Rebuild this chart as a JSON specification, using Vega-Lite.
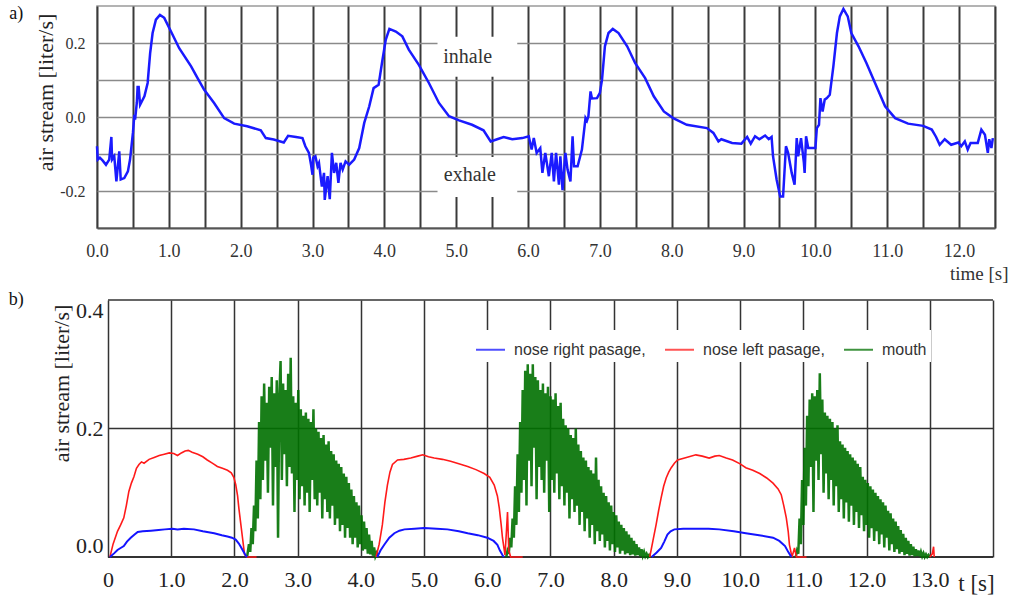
{
 "$schema": "https://vega.github.io/schema/vega-lite/v6.json",
 "background": "white",
 "padding": {"left": 8, "top": 3, "right": 0, "bottom": 0},
 "config": {"view": {"stroke": null}, "font": "Liberation Serif"},
 "columns": 1,
 "align": "none",
 "spacing": 6,
 "resolve": {"legend": {"color": "independent"}, "scale": {"color": "independent"}},
 "datasets": {
  "boxes": [{"t": 4.74, "t2": 5.85, "v": 0.217, "v2": 0.109}, {"t": 4.74, "t2": 5.85, "v": -0.108, "v2": -0.216}],
  "notes": [{"t": 5.16, "v": 0.163, "label": "inhale"}, {"t": 5.19, "v": -0.156, "label": "exhale"}],
  "tagA": [{"t": -1.22, "v": 0.265, "label": "a)"}],
  "tagB": [{"t": -1.572, "v": 0.3927, "label": "b)"}],
  "hlines": [{"v": 0, "t": 0, "t2": 14, "w": 2}, {"v": 0.2, "t": 0, "t2": 14, "w": 1.5}, {"v": 0.4, "t": 0, "t2": 14, "w": 1.5}],
  "a": [
{"t":0,"v":-0.079},{"t":0.01,"v":-0.115},{"t":0.04,"v":-0.11},{"t":0.08,"v":-0.118},{"t":0.125,"v":-0.129},{"t":0.17,"v":-0.115},{"t":0.2,"v":-0.054},{"t":0.21,"v":-0.115},{"t":0.24,"v":-0.106},{"t":0.27,"v":-0.174},{"t":0.31,"v":-0.093},{"t":0.33,"v":-0.169},{"t":0.38,"v":-0.165},{"t":0.43,"v":-0.147},{"t":0.46,"v":-0.115},{"t":0.5,"v":-0.043},{"t":0.52,"v":0.006},{"t":0.53,"v":-0.007},{"t":0.555,"v":0.04},{"t":0.565,"v":0.081},{"t":0.58,"v":0.081},{"t":0.6,"v":0.033},{"t":0.66,"v":0.056},{"t":0.705,"v":0.092},{"t":0.74,"v":0.173},{"t":0.774,"v":0.227},{"t":0.82,"v":0.263},{"t":0.876,"v":0.276},{"t":0.936,"v":0.268},{"t":1.03,"v":0.231},{"t":1.144,"v":0.186},{"t":1.31,"v":0.137},{"t":1.4,"v":0.105},{"t":1.49,"v":0.074},{"t":1.63,"v":0.038},{"t":1.77,"v":-0.003},{"t":1.91,"v":-0.018},{"t":2.09,"v":-0.025},{"t":2.28,"v":-0.036},{"t":2.35,"v":-0.057},{"t":2.46,"v":-0.061},{"t":2.6,"v":-0.069},{"t":2.66,"v":-0.051},{"t":2.77,"v":-0.054},{"t":2.86,"v":-0.057},{"t":2.9,"v":-0.079},{"t":2.95,"v":-0.097},{"t":2.98,"v":-0.13},{"t":3.0,"v":-0.156},{"t":3.01,"v":-0.11},{"t":3.04,"v":-0.106},{"t":3.07,"v":-0.133},{"t":3.09,"v":-0.124},{"t":3.13,"v":-0.188},{"t":3.16,"v":-0.151},{"t":3.17,"v":-0.224},{"t":3.21,"v":-0.16},{"t":3.24,"v":-0.222},{"t":3.27,"v":-0.097},{"t":3.3,"v":-0.151},{"t":3.33,"v":-0.124},{"t":3.36,"v":-0.178},{"t":3.39,"v":-0.124},{"t":3.42,"v":-0.142},{"t":3.46,"v":-0.12},{"t":3.51,"v":-0.129},{"t":3.58,"v":-0.115},{"t":3.65,"v":-0.084},{"t":3.72,"v":-0.016},{"t":3.79,"v":0.029},{"t":3.85,"v":0.078},{"t":3.92,"v":0.087},{"t":3.97,"v":0.15},{"t":4.02,"v":0.209},{"t":4.07,"v":0.238},{"t":4.16,"v":0.231},{"t":4.25,"v":0.218},{"t":4.34,"v":0.182},{"t":4.48,"v":0.141},{"t":4.62,"v":0.092},{"t":4.76,"v":0.038},{"t":4.9,"v":0.002},{"t":5.04,"v":-0.009},{"t":5.22,"v":-0.021},{"t":5.38,"v":-0.036},{"t":5.48,"v":-0.066},{"t":5.57,"v":-0.06},{"t":5.66,"v":-0.054},{"t":5.78,"v":-0.06},{"t":5.92,"v":-0.057},{"t":6.01,"v":-0.052},{"t":6.05,"v":-0.088},{"t":6.08,"v":-0.057},{"t":6.12,"v":-0.097},{"t":6.17,"v":-0.084},{"t":6.2,"v":-0.151},{"t":6.24,"v":-0.097},{"t":6.29,"v":-0.16},{"t":6.33,"v":-0.097},{"t":6.36,"v":-0.174},{"t":6.39,"v":-0.097},{"t":6.43,"v":-0.183},{"t":6.45,"v":-0.106},{"t":6.48,"v":-0.198},{"t":6.52,"v":-0.097},{"t":6.55,"v":-0.142},{"t":6.59,"v":-0.174},{"t":6.62,"v":-0.052},{"t":6.64,"v":-0.133},{"t":6.69,"v":-0.133},{"t":6.75,"v":-0.088},{"t":6.8,"v":-0.003},{"t":6.82,"v":-0.01},{"t":6.84,"v":0.002},{"t":6.87,"v":0.069},{"t":6.89,"v":0.05},{"t":6.96,"v":0.051},{"t":7.0,"v":0.065},{"t":7.03,"v":0.101},{"t":7.07,"v":0.191},{"t":7.12,"v":0.227},{"t":7.18,"v":0.238},{"t":7.26,"v":0.227},{"t":7.38,"v":0.191},{"t":7.49,"v":0.146},{"t":7.63,"v":0.105},{"t":7.75,"v":0.056},{"t":7.89,"v":0.015},{"t":8.02,"v":-0.003},{"t":8.21,"v":-0.021},{"t":8.49,"v":-0.03},{"t":8.58,"v":-0.043},{"t":8.65,"v":-0.066},{"t":8.69,"v":-0.06},{"t":8.84,"v":-0.07},{"t":8.97,"v":-0.072},{"t":9.05,"v":-0.054},{"t":9.1,"v":-0.072},{"t":9.16,"v":-0.052},{"t":9.22,"v":-0.06},{"t":9.3,"v":-0.05},{"t":9.35,"v":-0.06},{"t":9.39,"v":-0.054},{"t":9.41,"v":-0.106},{"t":9.46,"v":-0.169},{"t":9.51,"v":-0.215},{"t":9.55,"v":-0.215},{"t":9.59,"v":-0.079},{"t":9.62,"v":-0.097},{"t":9.67,"v":-0.151},{"t":9.71,"v":-0.183},{"t":9.74,"v":-0.057},{"t":9.76,"v":-0.106},{"t":9.8,"v":-0.057},{"t":9.84,"v":-0.124},{"t":9.85,"v":-0.151},{"t":9.87,"v":-0.052},{"t":9.9,"v":-0.084},{"t":10.0,"v":-0.084},{"t":10.02,"v":-0.03},{"t":10.05,"v":-0.021},{"t":10.07,"v":0.051},{"t":10.1,"v":0.015},{"t":10.13,"v":0.047},{"t":10.16,"v":0.051},{"t":10.2,"v":0.06},{"t":10.25,"v":0.137},{"t":10.3,"v":0.227},{"t":10.34,"v":0.272},{"t":10.39,"v":0.292},{"t":10.45,"v":0.272},{"t":10.5,"v":0.227},{"t":10.6,"v":0.191},{"t":10.71,"v":0.146},{"t":10.83,"v":0.092},{"t":10.97,"v":0.029},{"t":11.11,"v":-0.003},{"t":11.29,"v":-0.018},{"t":11.5,"v":-0.024},{"t":11.62,"v":-0.034},{"t":11.68,"v":-0.054},{"t":11.73,"v":-0.075},{"t":11.8,"v":-0.06},{"t":11.89,"v":-0.075},{"t":11.99,"v":-0.069},{"t":12.03,"v":-0.079},{"t":12.08,"v":-0.066},{"t":12.12,"v":-0.088},{"t":12.16,"v":-0.07},{"t":12.26,"v":-0.07},{"t":12.31,"v":-0.034},{"t":12.36,"v":-0.048},{"t":12.4,"v":-0.097},{"t":12.42,"v":-0.06},{"t":12.45,"v":-0.084},{"t":12.47,"v":-0.057}
  ],
  "b": [
{"s":"M","c":1,"t":2.20,"v":0},{"s":"M","c":1,"t":2.23,"v":0.02},{"s":"M","c":1,"t":2.25,"v":0.008},{"s":"M","c":1,"t":2.27,"v":0.045},{"s":"M","c":1,"t":2.29,"v":0.02},{"s":"M","c":1,"t":2.31,"v":0.08},{"s":"M","c":1,"t":2.33,"v":0.04},{"s":"M","c":1,"t":2.35,"v":0.15},{"s":"M","c":1,"t":2.37,"v":0.06},{"s":"M","c":1,"t":2.39,"v":0.21},{"s":"M","c":1,"t":2.41,"v":0.09},{"s":"M","c":1,"t":2.43,"v":0.25},{"s":"M","c":1,"t":2.45,"v":0.12},{"s":"M","c":1,"t":2.47,"v":0.27},{"s":"M","c":1,"t":2.49,"v":0.15},{"s":"M","c":1,"t":2.51,"v":0.24},{"s":"M","c":1,"t":2.53,"v":0.1},{"s":"M","c":1,"t":2.55,"v":0.265},{"s":"M","c":1,"t":2.57,"v":0.17},{"s":"M","c":1,"t":2.59,"v":0.28},{"s":"M","c":1,"t":2.61,"v":0.08},{"s":"M","c":1,"t":2.63,"v":0.255},{"s":"M","c":1,"t":2.65,"v":0.14},{"s":"M","c":1,"t":2.67,"v":0.275},{"s":"M","c":1,"t":2.69,"v":0.03},{"s":"M","c":1,"t":2.71,"v":0.25},{"s":"M","c":1,"t":2.73,"v":0.305},{"s":"M","c":1,"t":2.75,"v":0.12},{"s":"M","c":1,"t":2.77,"v":0.27},{"s":"M","c":1,"t":2.79,"v":0.16},{"s":"M","c":1,"t":2.81,"v":0.26},{"s":"M","c":1,"t":2.83,"v":0.11},{"s":"M","c":1,"t":2.85,"v":0.285},{"s":"M","c":1,"t":2.87,"v":0.14},{"s":"M","c":1,"t":2.89,"v":0.31},{"s":"M","c":1,"t":2.91,"v":0.13},{"s":"M","c":1,"t":2.93,"v":0.25},{"s":"M","c":1,"t":2.95,"v":0.07},{"s":"M","c":1,"t":2.97,"v":0.24},{"s":"M","c":1,"t":2.99,"v":0.12},{"s":"M","c":1,"t":3.01,"v":0.26},{"s":"M","c":1,"t":3.03,"v":0.09},{"s":"M","c":1,"t":3.05,"v":0.23},{"s":"M","c":1,"t":3.07,"v":0.11},{"s":"M","c":1,"t":3.09,"v":0.22},{"s":"M","c":1,"t":3.11,"v":0.08},{"s":"M","c":1,"t":3.13,"v":0.225},{"s":"M","c":1,"t":3.15,"v":0.1},{"s":"M","c":1,"t":3.17,"v":0.215},{"s":"M","c":1,"t":3.19,"v":0.07},{"s":"M","c":1,"t":3.21,"v":0.21},{"s":"M","c":1,"t":3.23,"v":0.12},{"s":"M","c":1,"t":3.25,"v":0.23},{"s":"M","c":1,"t":3.27,"v":0.09},{"s":"M","c":1,"t":3.29,"v":0.2},{"s":"M","c":1,"t":3.31,"v":0.08},{"s":"M","c":1,"t":3.33,"v":0.195},{"s":"M","c":1,"t":3.35,"v":0.1},{"s":"M","c":1,"t":3.37,"v":0.185},{"s":"M","c":1,"t":3.39,"v":0.06},{"s":"M","c":1,"t":3.41,"v":0.19},{"s":"M","c":1,"t":3.43,"v":0.09},{"s":"M","c":1,"t":3.45,"v":0.175},{"s":"M","c":1,"t":3.47,"v":0.07},{"s":"M","c":1,"t":3.49,"v":0.18},{"s":"M","c":1,"t":3.51,"v":0.06},{"s":"M","c":1,"t":3.53,"v":0.165},{"s":"M","c":1,"t":3.55,"v":0.08},{"s":"M","c":1,"t":3.57,"v":0.16},{"s":"M","c":1,"t":3.59,"v":0.05},{"s":"M","c":1,"t":3.61,"v":0.15},{"s":"M","c":1,"t":3.63,"v":0.06},{"s":"M","c":1,"t":3.65,"v":0.145},{"s":"M","c":1,"t":3.67,"v":0.04},{"s":"M","c":1,"t":3.69,"v":0.14},{"s":"M","c":1,"t":3.71,"v":0.05},{"s":"M","c":1,"t":3.73,"v":0.13},{"s":"M","c":1,"t":3.75,"v":0.03},{"s":"M","c":1,"t":3.77,"v":0.125},{"s":"M","c":1,"t":3.79,"v":0.045},{"s":"M","c":1,"t":3.81,"v":0.115},{"s":"M","c":1,"t":3.83,"v":0.03},{"s":"M","c":1,"t":3.85,"v":0.105},{"s":"M","c":1,"t":3.87,"v":0.02},{"s":"M","c":1,"t":3.89,"v":0.095},{"s":"M","c":1,"t":3.91,"v":0.03},{"s":"M","c":1,"t":3.93,"v":0.085},{"s":"M","c":1,"t":3.95,"v":0.015},{"s":"M","c":1,"t":3.97,"v":0.08},{"s":"M","c":1,"t":3.99,"v":0.02},{"s":"M","c":1,"t":4.01,"v":0.065},{"s":"M","c":1,"t":4.03,"v":0.01},{"s":"M","c":1,"t":4.05,"v":0.055},{"s":"M","c":1,"t":4.07,"v":0.012},{"s":"M","c":1,"t":4.09,"v":0.045},{"s":"M","c":1,"t":4.11,"v":0.005},{"s":"M","c":1,"t":4.13,"v":0.035},{"s":"M","c":1,"t":4.15,"v":0.004},{"s":"M","c":1,"t":4.17,"v":0.025},{"s":"M","c":1,"t":4.19,"v":0.002},{"s":"M","c":1,"t":4.21,"v":0.015},{"s":"M","c":1,"t":4.23,"v":0.001},{"s":"M","c":1,"t":4.25,"v":0.006},{"s":"M","c":1,"t":4.27,"v":0},
{"s":"M","c":2,"t":6.30,"v":0},{"s":"M","c":2,"t":6.32,"v":0.01},{"s":"M","c":2,"t":6.34,"v":0.005},{"s":"M","c":2,"t":6.36,"v":0.03},{"s":"M","c":2,"t":6.38,"v":0.015},{"s":"M","c":2,"t":6.40,"v":0.06},{"s":"M","c":2,"t":6.42,"v":0.03},{"s":"M","c":2,"t":6.44,"v":0.11},{"s":"M","c":2,"t":6.46,"v":0.05},{"s":"M","c":2,"t":6.48,"v":0.16},{"s":"M","c":2,"t":6.50,"v":0.07},{"s":"M","c":2,"t":6.52,"v":0.21},{"s":"M","c":2,"t":6.54,"v":0.1},{"s":"M","c":2,"t":6.56,"v":0.26},{"s":"M","c":2,"t":6.58,"v":0.12},{"s":"M","c":2,"t":6.60,"v":0.29},{"s":"M","c":2,"t":6.62,"v":0.08},{"s":"M","c":2,"t":6.64,"v":0.3},{"s":"M","c":2,"t":6.66,"v":0.15},{"s":"M","c":2,"t":6.68,"v":0.285},{"s":"M","c":2,"t":6.70,"v":0.11},{"s":"M","c":2,"t":6.72,"v":0.3},{"s":"M","c":2,"t":6.74,"v":0.17},{"s":"M","c":2,"t":6.76,"v":0.28},{"s":"M","c":2,"t":6.78,"v":0.09},{"s":"M","c":2,"t":6.80,"v":0.275},{"s":"M","c":2,"t":6.82,"v":0.14},{"s":"M","c":2,"t":6.84,"v":0.26},{"s":"M","c":2,"t":6.86,"v":0.12},{"s":"M","c":2,"t":6.88,"v":0.27},{"s":"M","c":2,"t":6.90,"v":0.1},{"s":"M","c":2,"t":6.92,"v":0.255},{"s":"M","c":2,"t":6.94,"v":0.15},{"s":"M","c":2,"t":6.96,"v":0.265},{"s":"M","c":2,"t":6.98,"v":0.07},{"s":"M","c":2,"t":7.00,"v":0.25},{"s":"M","c":2,"t":7.02,"v":0.12},{"s":"M","c":2,"t":7.04,"v":0.245},{"s":"M","c":2,"t":7.06,"v":0.1},{"s":"M","c":2,"t":7.08,"v":0.255},{"s":"M","c":2,"t":7.10,"v":0.13},{"s":"M","c":2,"t":7.12,"v":0.235},{"s":"M","c":2,"t":7.14,"v":0.09},{"s":"M","c":2,"t":7.16,"v":0.24},{"s":"M","c":2,"t":7.18,"v":0.11},{"s":"M","c":2,"t":7.20,"v":0.215},{"s":"M","c":2,"t":7.22,"v":0.08},{"s":"M","c":2,"t":7.24,"v":0.205},{"s":"M","c":2,"t":7.26,"v":0.1},{"s":"M","c":2,"t":7.28,"v":0.2},{"s":"M","c":2,"t":7.30,"v":0.06},{"s":"M","c":2,"t":7.32,"v":0.19},{"s":"M","c":2,"t":7.34,"v":0.09},{"s":"M","c":2,"t":7.36,"v":0.185},{"s":"M","c":2,"t":7.38,"v":0.07},{"s":"M","c":2,"t":7.40,"v":0.2},{"s":"M","c":2,"t":7.42,"v":0.08},{"s":"M","c":2,"t":7.44,"v":0.175},{"s":"M","c":2,"t":7.46,"v":0.05},{"s":"M","c":2,"t":7.48,"v":0.165},{"s":"M","c":2,"t":7.50,"v":0.07},{"s":"M","c":2,"t":7.52,"v":0.155},{"s":"M","c":2,"t":7.54,"v":0.04},{"s":"M","c":2,"t":7.56,"v":0.15},{"s":"M","c":2,"t":7.58,"v":0.06},{"s":"M","c":2,"t":7.60,"v":0.14},{"s":"M","c":2,"t":7.62,"v":0.03},{"s":"M","c":2,"t":7.64,"v":0.135},{"s":"M","c":2,"t":7.66,"v":0.05},{"s":"M","c":2,"t":7.68,"v":0.13},{"s":"M","c":2,"t":7.70,"v":0.02},{"s":"M","c":2,"t":7.72,"v":0.155},{"s":"M","c":2,"t":7.74,"v":0.04},{"s":"M","c":2,"t":7.76,"v":0.12},{"s":"M","c":2,"t":7.78,"v":0.025},{"s":"M","c":2,"t":7.80,"v":0.11},{"s":"M","c":2,"t":7.82,"v":0.035},{"s":"M","c":2,"t":7.84,"v":0.1},{"s":"M","c":2,"t":7.86,"v":0.015},{"s":"M","c":2,"t":7.88,"v":0.095},{"s":"M","c":2,"t":7.90,"v":0.025},{"s":"M","c":2,"t":7.92,"v":0.085},{"s":"M","c":2,"t":7.94,"v":0.01},{"s":"M","c":2,"t":7.96,"v":0.08},{"s":"M","c":2,"t":7.98,"v":0.02},{"s":"M","c":2,"t":8.00,"v":0.07},{"s":"M","c":2,"t":8.02,"v":0.008},{"s":"M","c":2,"t":8.04,"v":0.065},{"s":"M","c":2,"t":8.06,"v":0.015},{"s":"M","c":2,"t":8.08,"v":0.055},{"s":"M","c":2,"t":8.10,"v":0.005},{"s":"M","c":2,"t":8.12,"v":0.05},{"s":"M","c":2,"t":8.14,"v":0.01},{"s":"M","c":2,"t":8.16,"v":0.045},{"s":"M","c":2,"t":8.18,"v":0.004},{"s":"M","c":2,"t":8.20,"v":0.04},{"s":"M","c":2,"t":8.22,"v":0.006},{"s":"M","c":2,"t":8.24,"v":0.035},{"s":"M","c":2,"t":8.26,"v":0.003},{"s":"M","c":2,"t":8.28,"v":0.03},{"s":"M","c":2,"t":8.30,"v":0.004},{"s":"M","c":2,"t":8.32,"v":0.025},{"s":"M","c":2,"t":8.34,"v":0.002},{"s":"M","c":2,"t":8.36,"v":0.02},{"s":"M","c":2,"t":8.38,"v":0.003},{"s":"M","c":2,"t":8.40,"v":0.015},{"s":"M","c":2,"t":8.42,"v":0.001},{"s":"M","c":2,"t":8.44,"v":0.012},{"s":"M","c":2,"t":8.46,"v":0.002},{"s":"M","c":2,"t":8.48,"v":0.008},{"s":"M","c":2,"t":8.50,"v":0.001},{"s":"M","c":2,"t":8.52,"v":0.005},{"s":"M","c":2,"t":8.54,"v":0},{"s":"M","c":2,"t":8.56,"v":0.003},{"s":"M","c":2,"t":8.58,"v":0},
{"s":"M","c":3,"t":10.88,"v":0},{"s":"M","c":3,"t":10.90,"v":0.01},{"s":"M","c":3,"t":10.92,"v":0.005},{"s":"M","c":3,"t":10.94,"v":0.06},{"s":"M","c":3,"t":10.96,"v":0.02},{"s":"M","c":3,"t":10.98,"v":0.12},{"s":"M","c":3,"t":11.00,"v":0.05},{"s":"M","c":3,"t":11.02,"v":0.17},{"s":"M","c":3,"t":11.04,"v":0.08},{"s":"M","c":3,"t":11.06,"v":0.22},{"s":"M","c":3,"t":11.08,"v":0.11},{"s":"M","c":3,"t":11.10,"v":0.245},{"s":"M","c":3,"t":11.12,"v":0.14},{"s":"M","c":3,"t":11.14,"v":0.255},{"s":"M","c":3,"t":11.16,"v":0.07},{"s":"M","c":3,"t":11.18,"v":0.25},{"s":"M","c":3,"t":11.20,"v":0.15},{"s":"M","c":3,"t":11.22,"v":0.26},{"s":"M","c":3,"t":11.24,"v":0.12},{"s":"M","c":3,"t":11.26,"v":0.286},{"s":"M","c":3,"t":11.28,"v":0.16},{"s":"M","c":3,"t":11.30,"v":0.245},{"s":"M","c":3,"t":11.32,"v":0.1},{"s":"M","c":3,"t":11.34,"v":0.225},{"s":"M","c":3,"t":11.36,"v":0.13},{"s":"M","c":3,"t":11.38,"v":0.22},{"s":"M","c":3,"t":11.40,"v":0.09},{"s":"M","c":3,"t":11.42,"v":0.215},{"s":"M","c":3,"t":11.44,"v":0.12},{"s":"M","c":3,"t":11.46,"v":0.21},{"s":"M","c":3,"t":11.48,"v":0.08},{"s":"M","c":3,"t":11.50,"v":0.2},{"s":"M","c":3,"t":11.52,"v":0.11},{"s":"M","c":3,"t":11.54,"v":0.205},{"s":"M","c":3,"t":11.56,"v":0.07},{"s":"M","c":3,"t":11.58,"v":0.18},{"s":"M","c":3,"t":11.60,"v":0.09},{"s":"M","c":3,"t":11.62,"v":0.175},{"s":"M","c":3,"t":11.64,"v":0.06},{"s":"M","c":3,"t":11.66,"v":0.17},{"s":"M","c":3,"t":11.68,"v":0.085},{"s":"M","c":3,"t":11.70,"v":0.165},{"s":"M","c":3,"t":11.72,"v":0.055},{"s":"M","c":3,"t":11.74,"v":0.16},{"s":"M","c":3,"t":11.76,"v":0.08},{"s":"M","c":3,"t":11.78,"v":0.155},{"s":"M","c":3,"t":11.80,"v":0.05},{"s":"M","c":3,"t":11.82,"v":0.15},{"s":"M","c":3,"t":11.84,"v":0.07},{"s":"M","c":3,"t":11.86,"v":0.145},{"s":"M","c":3,"t":11.88,"v":0.045},{"s":"M","c":3,"t":11.90,"v":0.14},{"s":"M","c":3,"t":11.92,"v":0.065},{"s":"M","c":3,"t":11.94,"v":0.125},{"s":"M","c":3,"t":11.96,"v":0.04},{"s":"M","c":3,"t":11.98,"v":0.12},{"s":"M","c":3,"t":12.00,"v":0.05},{"s":"M","c":3,"t":12.02,"v":0.115},{"s":"M","c":3,"t":12.04,"v":0.03},{"s":"M","c":3,"t":12.06,"v":0.11},{"s":"M","c":3,"t":12.08,"v":0.045},{"s":"M","c":3,"t":12.10,"v":0.105},{"s":"M","c":3,"t":12.12,"v":0.025},{"s":"M","c":3,"t":12.14,"v":0.1},{"s":"M","c":3,"t":12.16,"v":0.04},{"s":"M","c":3,"t":12.18,"v":0.095},{"s":"M","c":3,"t":12.20,"v":0.02},{"s":"M","c":3,"t":12.22,"v":0.09},{"s":"M","c":3,"t":12.24,"v":0.035},{"s":"M","c":3,"t":12.26,"v":0.085},{"s":"M","c":3,"t":12.28,"v":0.015},{"s":"M","c":3,"t":12.30,"v":0.08},{"s":"M","c":3,"t":12.32,"v":0.03},{"s":"M","c":3,"t":12.34,"v":0.072},{"s":"M","c":3,"t":12.36,"v":0.01},{"s":"M","c":3,"t":12.38,"v":0.068},{"s":"M","c":3,"t":12.40,"v":0.02},{"s":"M","c":3,"t":12.42,"v":0.06},{"s":"M","c":3,"t":12.44,"v":0.008},{"s":"M","c":3,"t":12.46,"v":0.055},{"s":"M","c":3,"t":12.48,"v":0.012},{"s":"M","c":3,"t":12.50,"v":0.048},{"s":"M","c":3,"t":12.52,"v":0.005},{"s":"M","c":3,"t":12.54,"v":0.042},{"s":"M","c":3,"t":12.56,"v":0.008},{"s":"M","c":3,"t":12.58,"v":0.036},{"s":"M","c":3,"t":12.60,"v":0.003},{"s":"M","c":3,"t":12.62,"v":0.03},{"s":"M","c":3,"t":12.64,"v":0.005},{"s":"M","c":3,"t":12.66,"v":0.025},{"s":"M","c":3,"t":12.68,"v":0.002},{"s":"M","c":3,"t":12.70,"v":0.02},{"s":"M","c":3,"t":12.72,"v":0.003},{"s":"M","c":3,"t":12.74,"v":0.016},{"s":"M","c":3,"t":12.76,"v":0.001},{"s":"M","c":3,"t":12.78,"v":0.012},{"s":"M","c":3,"t":12.80,"v":0.002},{"s":"M","c":3,"t":12.82,"v":0.01},{"s":"M","c":3,"t":12.84,"v":0.001},{"s":"M","c":3,"t":12.86,"v":0.008},{"s":"M","c":3,"t":12.88,"v":0.001},{"s":"M","c":3,"t":12.90,"v":0.006},{"s":"M","c":3,"t":12.92,"v":0},{"s":"M","c":3,"t":12.94,"v":0.004},{"s":"M","c":3,"t":12.96,"v":0},{"s":"M","c":3,"t":12.98,"v":0.003},{"s":"M","c":3,"t":13.00,"v":0},
{"s":"L","c":1,"t":0.03,"v":0},{"s":"L","c":1,"t":0.08,"v":0.02},{"s":"L","c":1,"t":0.15,"v":0.04},{"s":"L","c":1,"t":0.2,"v":0.05},{"s":"L","c":1,"t":0.25,"v":0.061},{"s":"L","c":1,"t":0.29,"v":0.08},{"s":"L","c":1,"t":0.33,"v":0.102},{"s":"L","c":1,"t":0.37,"v":0.115},{"s":"L","c":1,"t":0.41,"v":0.125},{"s":"L","c":1,"t":0.45,"v":0.138},{"s":"L","c":1,"t":0.49,"v":0.144},{"s":"L","c":1,"t":0.53,"v":0.148},{"s":"L","c":1,"t":0.57,"v":0.146},{"s":"L","c":1,"t":0.65,"v":0.152},{"s":"L","c":1,"t":0.73,"v":0.155},{"s":"L","c":1,"t":0.81,"v":0.158},{"s":"L","c":1,"t":0.89,"v":0.16},{"s":"L","c":1,"t":0.97,"v":0.162},{"s":"L","c":1,"t":1.04,"v":0.161},{"s":"L","c":1,"t":1.1,"v":0.158},{"s":"L","c":1,"t":1.16,"v":0.162},{"s":"L","c":1,"t":1.22,"v":0.165},{"s":"L","c":1,"t":1.27,"v":0.166},{"s":"L","c":1,"t":1.33,"v":0.163},{"s":"L","c":1,"t":1.42,"v":0.16},{"s":"L","c":1,"t":1.5,"v":0.156},{"s":"L","c":1,"t":1.57,"v":0.151},{"s":"L","c":1,"t":1.65,"v":0.146},{"s":"L","c":1,"t":1.73,"v":0.141},{"s":"L","c":1,"t":1.81,"v":0.138},{"s":"L","c":1,"t":1.89,"v":0.135},{"s":"L","c":1,"t":1.95,"v":0.131},{"s":"L","c":1,"t":1.99,"v":0.124},{"s":"L","c":1,"t":2.02,"v":0.113},{"s":"L","c":1,"t":2.05,"v":0.095},{"s":"L","c":1,"t":2.07,"v":0.076},{"s":"L","c":1,"t":2.1,"v":0.052},{"s":"L","c":1,"t":2.13,"v":0.028},{"s":"L","c":1,"t":2.16,"v":0.004},{"s":"L","c":1,"t":2.2,"v":0},{"s":"L","c":1,"t":2.35,"v":0},
{"s":"L","c":2,"t":4.24,"v":0},{"s":"L","c":2,"t":4.29,"v":0.02},{"s":"L","c":2,"t":4.34,"v":0.05},{"s":"L","c":2,"t":4.38,"v":0.085},{"s":"L","c":2,"t":4.42,"v":0.112},{"s":"L","c":2,"t":4.46,"v":0.132},{"s":"L","c":2,"t":4.5,"v":0.144},{"s":"L","c":2,"t":4.58,"v":0.151},{"s":"L","c":2,"t":4.68,"v":0.152},{"s":"L","c":2,"t":4.79,"v":0.154},{"s":"L","c":2,"t":4.9,"v":0.157},{"s":"L","c":2,"t":4.98,"v":0.159},{"s":"L","c":2,"t":5.07,"v":0.156},{"s":"L","c":2,"t":5.16,"v":0.154},{"s":"L","c":2,"t":5.29,"v":0.152},{"s":"L","c":2,"t":5.42,"v":0.149},{"s":"L","c":2,"t":5.55,"v":0.145},{"s":"L","c":2,"t":5.69,"v":0.141},{"s":"L","c":2,"t":5.82,"v":0.136},{"s":"L","c":2,"t":5.95,"v":0.13},{"s":"L","c":2,"t":6.04,"v":0.124},{"s":"L","c":2,"t":6.11,"v":0.112},{"s":"L","c":2,"t":6.16,"v":0.095},{"s":"L","c":2,"t":6.19,"v":0.076},{"s":"L","c":2,"t":6.22,"v":0.05},{"s":"L","c":2,"t":6.24,"v":0.03},{"s":"L","c":2,"t":6.28,"v":0.003},{"s":"L","c":2,"t":6.30,"v":0.035},{"s":"L","c":2,"t":6.32,"v":0.07},{"s":"L","c":2,"t":6.34,"v":0.01},{"s":"L","c":2,"t":6.37,"v":0},{"s":"L","c":2,"t":6.56,"v":0},
{"s":"L","c":3,"t":8.57,"v":0},{"s":"L","c":3,"t":8.62,"v":0.025},{"s":"L","c":3,"t":8.67,"v":0.05},{"s":"L","c":3,"t":8.71,"v":0.072},{"s":"L","c":3,"t":8.75,"v":0.092},{"s":"L","c":3,"t":8.79,"v":0.11},{"s":"L","c":3,"t":8.83,"v":0.123},{"s":"L","c":3,"t":8.87,"v":0.132},{"s":"L","c":3,"t":8.91,"v":0.139},{"s":"L","c":3,"t":8.96,"v":0.146},{"s":"L","c":3,"t":9.01,"v":0.151},{"s":"L","c":3,"t":9.15,"v":0.155},{"s":"L","c":3,"t":9.3,"v":0.159},{"s":"L","c":3,"t":9.4,"v":0.157},{"s":"L","c":3,"t":9.51,"v":0.154},{"s":"L","c":3,"t":9.6,"v":0.157},{"s":"L","c":3,"t":9.67,"v":0.158},{"s":"L","c":3,"t":9.78,"v":0.154},{"s":"L","c":3,"t":9.88,"v":0.151},{"s":"L","c":3,"t":10.0,"v":0.145},{"s":"L","c":3,"t":10.09,"v":0.139},{"s":"L","c":3,"t":10.2,"v":0.135},{"s":"L","c":3,"t":10.31,"v":0.13},{"s":"L","c":3,"t":10.42,"v":0.123},{"s":"L","c":3,"t":10.52,"v":0.115},{"s":"L","c":3,"t":10.6,"v":0.106},{"s":"L","c":3,"t":10.65,"v":0.097},{"s":"L","c":3,"t":10.69,"v":0.08},{"s":"L","c":3,"t":10.73,"v":0.061},{"s":"L","c":3,"t":10.76,"v":0.04},{"s":"L","c":3,"t":10.78,"v":0.019},{"s":"L","c":3,"t":10.82,"v":0},{"s":"L","c":3,"t":10.86,"v":0.014},{"s":"L","c":3,"t":10.89,"v":0},{"s":"L","c":3,"t":11.05,"v":0},
{"s":"L","c":4,"t":13.0,"v":0},{"s":"L","c":4,"t":13.04,"v":0.005},{"s":"L","c":4,"t":13.06,"v":0.016},{"s":"L","c":4,"t":13.07,"v":0},
{"s":"R","c":1,"t":0.03,"v":0},{"s":"R","c":1,"t":0.1,"v":0.006},{"s":"R","c":1,"t":0.15,"v":0.011},{"s":"R","c":1,"t":0.2,"v":0.014},{"s":"R","c":1,"t":0.25,"v":0.017},{"s":"R","c":1,"t":0.3,"v":0.024},{"s":"R","c":1,"t":0.36,"v":0.03},{"s":"R","c":1,"t":0.42,"v":0.035},{"s":"R","c":1,"t":0.47,"v":0.039},{"s":"R","c":1,"t":0.55,"v":0.04},{"s":"R","c":1,"t":0.68,"v":0.041},{"s":"R","c":1,"t":0.8,"v":0.042},{"s":"R","c":1,"t":0.9,"v":0.043},{"s":"R","c":1,"t":1.02,"v":0.044},{"s":"R","c":1,"t":1.1,"v":0.043},{"s":"R","c":1,"t":1.2,"v":0.044},{"s":"R","c":1,"t":1.36,"v":0.043},{"s":"R","c":1,"t":1.5,"v":0.04},{"s":"R","c":1,"t":1.68,"v":0.037},{"s":"R","c":1,"t":1.8,"v":0.034},{"s":"R","c":1,"t":1.89,"v":0.032},{"s":"R","c":1,"t":1.96,"v":0.03},{"s":"R","c":1,"t":2.02,"v":0.027},{"s":"R","c":1,"t":2.07,"v":0.021},{"s":"R","c":1,"t":2.1,"v":0.016},{"s":"R","c":1,"t":2.14,"v":0.009},{"s":"R","c":1,"t":2.18,"v":0.002},{"s":"R","c":1,"t":2.2,"v":0},
{"s":"R","c":2,"t":4.26,"v":0},{"s":"R","c":2,"t":4.31,"v":0.01},{"s":"R","c":2,"t":4.37,"v":0.019},{"s":"R","c":2,"t":4.45,"v":0.03},{"s":"R","c":2,"t":4.53,"v":0.037},{"s":"R","c":2,"t":4.61,"v":0.041},{"s":"R","c":2,"t":4.69,"v":0.043},{"s":"R","c":2,"t":4.85,"v":0.044},{"s":"R","c":2,"t":5.0,"v":0.045},{"s":"R","c":2,"t":5.2,"v":0.044},{"s":"R","c":2,"t":5.37,"v":0.043},{"s":"R","c":2,"t":5.55,"v":0.04},{"s":"R","c":2,"t":5.69,"v":0.037},{"s":"R","c":2,"t":5.85,"v":0.034},{"s":"R","c":2,"t":6.0,"v":0.03},{"s":"R","c":2,"t":6.1,"v":0.025},{"s":"R","c":2,"t":6.16,"v":0.019},{"s":"R","c":2,"t":6.2,"v":0.01},{"s":"R","c":2,"t":6.24,"v":0.003},{"s":"R","c":2,"t":6.26,"v":0},
{"s":"R","c":3,"t":8.6,"v":0},{"s":"R","c":3,"t":8.68,"v":0.007},{"s":"R","c":3,"t":8.75,"v":0.014},{"s":"R","c":3,"t":8.8,"v":0.024},{"s":"R","c":3,"t":8.85,"v":0.035},{"s":"R","c":3,"t":8.9,"v":0.04},{"s":"R","c":3,"t":8.96,"v":0.043},{"s":"R","c":3,"t":9.1,"v":0.044},{"s":"R","c":3,"t":9.3,"v":0.044},{"s":"R","c":3,"t":9.5,"v":0.044},{"s":"R","c":3,"t":9.67,"v":0.043},{"s":"R","c":3,"t":9.9,"v":0.04},{"s":"R","c":3,"t":10.09,"v":0.037},{"s":"R","c":3,"t":10.3,"v":0.034},{"s":"R","c":3,"t":10.52,"v":0.03},{"s":"R","c":3,"t":10.62,"v":0.025},{"s":"R","c":3,"t":10.71,"v":0.017},{"s":"R","c":3,"t":10.76,"v":0.008},{"s":"R","c":3,"t":10.81,"v":0}
  ]
 },
 "concat": [
  {
   "width": 898,
   "height": 222,
   "view": {"stroke": "#9a9a9a", "strokeWidth": 1.5},
   "encoding": {
    "x": {"field": "t", "type": "quantitative", "scale": {"domain": [0, 12.5], "nice": false, "zero": false},
     "axis": {"values": [0,0.5,1,1.5,2,2.5,3,3.5,4,4.5,5,5.5,6,6.5,7,7.5,8,8.5,9,9.5,10,10.5,11,11.5,12,12.5], "grid": true, "gridColor": "#3a3a3a", "gridWidth": 2, "ticks": false, "domain": true, "domainColor": "#555555", "domainWidth": 2, "labelExpr": "datum.value % 1 == 0 ? format(datum.value, '.1f') : ''", "labelFont": "Liberation Serif", "labelFontSize": 18, "labelColor": "#333333", "labelPadding": 14, "labelOverlap": false, "labelBound": false, "labelFlush": false, "title": "time [s]", "titleFont": "Liberation Serif", "titleFontSize": 19, "titleFontWeight": "normal", "titleColor": "#333333", "titleX": 911, "titleY": 45, "titleAlign": "right", "titleBaseline": "middle"}},
    "y": {"field": "v", "type": "quantitative", "scale": {"domain": [-0.3, 0.3], "nice": false, "zero": false},
     "axis": {"values": [-0.2,-0.1,0,0.1,0.2], "grid": true, "gridColor": "#8a8a8a", "gridWidth": 1.5, "ticks": false, "domain": false, "labelExpr": "datum.value == 0.2 ? '0.2' : datum.value == 0 ? '0.0' : datum.value == -0.2 ? '-0.2' : ''", "labelFont": "Liberation Serif", "labelFontSize": 16, "labelColor": "#333333", "labelPadding": 12, "labelOverlap": false, "title": "air stream [liter/s]", "titleFont": "Liberation Serif", "titleFontSize": 22, "titleFontWeight": "normal", "titleColor": "#222222", "titleX": -52, "titleY": 86, "titleAngle": -90, "titleAlign": "center", "titleBaseline": "middle"}}
   },
   "layer": [
    {"data": {"name": "boxes"}, "mark": {"type": "rect", "color": "white"}, "encoding": {"x2": {"field": "t2"}, "y2": {"field": "v2"}}},
    {"data": {"name": "a"}, "mark": {"type": "line", "color": "#1a1aff", "strokeWidth": 2.5}},
    {"data": {"name": "notes"}, "mark": {"type": "text", "font": "Liberation Serif", "fontSize": 20, "color": "#333333"}, "encoding": {"text": {"field": "label"}}},
    {"data": {"name": "tagA"}, "mark": {"type": "text", "align": "left", "baseline": "alphabetic", "font": "Liberation Serif", "fontSize": 18, "color": "#111111", "clip": false}, "encoding": {"text": {"field": "label"}}}
   ]
  },
  {
   "width": 896,
   "height": 257,
   "encoding": {
    "x": {"field": "t", "type": "quantitative", "scale": {"domain": [-0.174, 14], "nice": false, "zero": false},
     "axis": {"values": [0,1,2,3,4,5,6,7,8,9,10,11,12,13,14], "grid": true, "gridColor": "#333333", "gridWidth": 1.5, "ticks": false, "domain": false, "labelExpr": "datum.value == 0 ? '0' : datum.value == 14 ? '' : format(datum.value, '.1f')", "labelFont": "Liberation Serif", "labelFontSize": 22, "labelColor": "#222222", "labelPadding": 12, "labelOverlap": false, "labelBound": false, "labelFlush": false, "title": "t [s]", "titleFont": "Liberation Serif", "titleFontSize": 23, "titleFontWeight": "normal", "titleColor": "#222222", "titleX": 879, "titleY": 26, "titleAlign": "center", "titleBaseline": "middle"}},
    "y": {"field": "v", "type": "quantitative", "scale": {"domain": [0, 0.4], "nice": false, "zero": false},
     "axis": {"values": [0, 0.2, 0.4], "grid": false, "ticks": false, "domain": false, "labelExpr": "format(datum.value, '.1f')", "labelFont": "Liberation Serif", "labelFontSize": 22, "labelColor": "#222222", "labelPadding": -6, "labelFlush": true, "title": "air stream [liter/s]", "titleFont": "Liberation Serif", "titleFontSize": 22, "titleFontWeight": "normal", "titleColor": "#222222", "titleX": -36, "titleY": 83, "titleAngle": -90, "titleAlign": "center", "titleBaseline": "middle"}}
   },
   "layer": [
    {"data": {"name": "hlines"}, "mark": {"type": "rule", "color": "#333333"}, "encoding": {"x2": {"field": "t2"}, "strokeWidth": {"field": "w", "type": "quantitative", "scale": null}}},
    {"data": {"name": "b"}, "transform": [{"filter": "datum.s == 'M'"}], "mark": {"type": "line", "strokeWidth": 2.5, "opacity": 0.9},
     "encoding": {"color": {"field": "s", "type": "nominal", "scale": {"domain": ["R", "L", "M"], "range": ["#1414ff", "#ff1a1a", "#007000"]},
      "legend": {"title": null, "orient": "none", "legendX": 374, "legendY": 30, "direction": "horizontal", "symbolType": "stroke", "symbolSize": 840, "symbolStrokeWidth": 2, "symbolOpacity": 0.75, "labelExpr": "datum.value == 'R' ? 'nose right pasage,' : datum.value == 'L' ? 'nose left pasage,' : 'mouth'", "labelFont": "Liberation Sans", "labelFontSize": 16, "labelColor": "#333333", "labelOffset": 8, "columnPadding": 15, "fillColor": "white", "padding": 4, "labelLimit": 300}},
      "detail": {"field": "c", "type": "nominal"}}},
    {"data": {"name": "b"}, "transform": [{"filter": "datum.s == 'L'"}], "mark": {"type": "line", "strokeWidth": 1.6}, "encoding": {"color": {"field": "s", "type": "nominal"}, "detail": {"field": "c", "type": "nominal"}}},
    {"data": {"name": "b"}, "transform": [{"filter": "datum.s == 'R'"}], "mark": {"type": "line", "strokeWidth": 2}, "encoding": {"color": {"field": "s", "type": "nominal"}, "detail": {"field": "c", "type": "nominal"}}},
    {"data": {"name": "tagB"}, "mark": {"type": "text", "align": "left", "baseline": "alphabetic", "font": "Liberation Serif", "fontSize": 18, "color": "#111111", "clip": false}, "encoding": {"text": {"field": "label"}}}
   ]
  }
 ]
}
